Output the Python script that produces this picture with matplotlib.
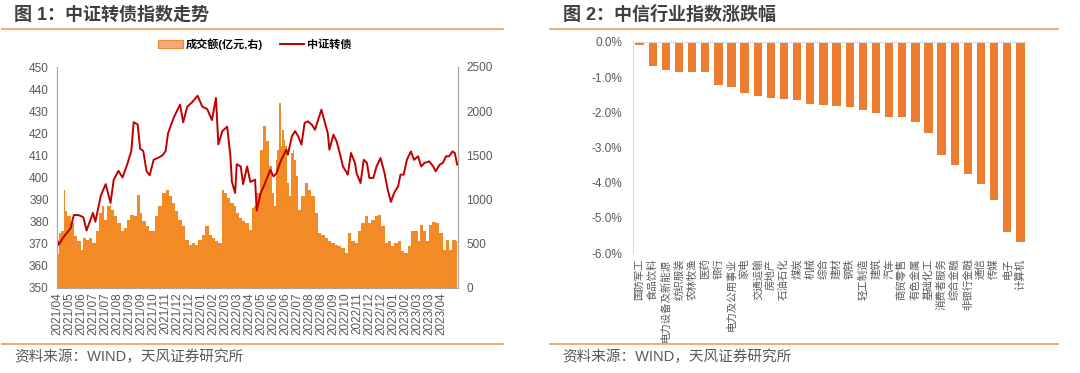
import matplotlib
matplotlib.use('Agg')
import matplotlib.pyplot as plt
from matplotlib.lines import Line2D
from matplotlib.ticker import FuncFormatter

plt.rcParams['font.family'] = ['Liberation Sans', 'Noto Sans CJK SC']
plt.rcParams['axes.unicode_minus'] = False

# --- figure 1 data: trading-day index (approx.) ---
line_day = [0, 1, 7, 16, 20, 26, 32, 36, 44, 47, 54, 60, 66, 70, 76, 81, 87, 92, 95, 100,
            103, 107, 111, 115, 120, 126, 131, 135, 138, 145, 153, 157, 162, 168, 175, 181, 187, 193, 198, 201,
            206, 212, 216, 218, 222, 224, 229, 232, 237, 241, 247, 249, 254, 259, 266, 270, 274, 278, 282, 286,
            288, 293, 297, 301, 305, 309, 313, 318, 322, 326, 330, 334, 338, 340, 345, 349, 353, 357, 363, 367,
            372, 374, 379, 383, 387, 390, 395, 399, 404, 409, 413, 417, 421, 426, 429, 433, 437, 442, 446, 451,
            455, 459, 465, 470, 473, 478, 482, 486, 490, 494, 497, 500]
line_val = [371, 369.5, 373, 377, 383, 383, 382, 376, 384, 380, 392, 397, 388.5, 399, 403, 400, 406, 412, 425, 424,
            413, 412, 403, 401, 408, 409, 410, 412, 420, 427, 433, 425, 432, 434, 437, 432, 431, 426, 436, 415,
            421, 423, 410, 398, 393, 406, 405, 397, 405, 398, 399, 385, 393, 397, 403.5, 400.5, 402, 406.5, 409.6, 412.6,
            410.3, 418.6, 421, 418.6, 414.9, 424.7, 425.4, 423.9, 421.6, 426.2, 430.7, 425.4, 420, 412.6, 419.4, 416.4, 411, 405, 401.3, 411.1,
            406.6, 402, 397.5, 408, 406.6, 399.8, 399.8, 405, 408.8, 402, 394.5, 389, 393, 396, 401.3, 401.3, 408, 411.8, 408, 409.6,
            405, 406.6, 407.3, 405, 402.8, 405.8, 406.6, 409.6, 409.6, 411.8, 411.1, 405.8]

bar_day = [0, 3, 6, 9, 10, 14, 18, 22, 27, 30, 33, 37, 41, 45, 50, 54, 56, 60, 64, 68,
           72, 76, 81, 85, 89, 93, 97, 101, 104, 108, 112, 116, 120, 124, 128, 133, 137, 141, 145, 149,
           153, 157, 162, 166, 170, 174, 178, 182, 187, 191, 195, 199, 203, 207, 209, 214, 218, 222, 225, 228,
           232, 237, 241, 244, 247, 251, 255, 259, 263, 266, 270, 272, 274, 276, 278, 280, 282, 284, 286, 288,
           291, 293, 295, 297, 299, 303, 307, 311, 315, 320, 324, 328, 332, 336, 340, 345, 349, 353, 357, 361,
           365, 369, 374, 378, 382, 386, 390, 394, 399, 403, 407, 411, 415, 419, 424, 428, 432, 436, 440, 444,
           448, 453, 455, 459, 463, 467, 471, 475, 480, 484, 488, 492, 496, 500]
bar_val = [380, 622, 641, 1112, 867, 811, 735, 584, 528, 434, 566, 547, 566, 509, 641, 848, 924, 773, 924, 886,
           811, 735, 641, 679, 773, 830, 811, 1056, 848, 754, 698, 641, 641, 811, 924, 1075, 1112, 1037, 962, 867,
           773, 698, 547, 490, 509, 490, 547, 603, 698, 603, 566, 528, 509, 1112, 1075, 1018, 962, 924, 848, 792,
           754, 735, 660, 905, 924, 1075, 1565, 1829, 1659, 1376, 1075, 924, 1452, 1565, 2093, 1603, 1791, 1678, 1603, 1188,
           1037, 1527, 1565, 1452, 1263, 886, 1037, 1188, 1112, 1037, 848, 622, 603, 566, 528, 509, 490, 471, 452, 396,
           622, 528, 509, 641, 735, 811, 735, 773, 811, 830, 698, 509, 528, 471, 509, 528, 415, 396, 471, 641,
           641, 528, 716, 641, 528, 716, 743, 735, 622, 434, 547, 434, 547, 528]

tick_labels = ['2021/04', '2021/05', '2021/06', '2021/07', '2021/07', '2021/08', '2021/09', '2021/09',
               '2021/10', '2021/11', '2021/12', '2021/12', '2022/01', '2022/02', '2022/03', '2022/03',
               '2022/04', '2022/05', '2022/06', '2022/06', '2022/07', '2022/08', '2022/08', '2022/09',
               '2022/10', '2022/11', '2022/12', '2022/12', '2023/01', '2023/02', '2023/03', '2023/03', '2023/04']
tick_step = 15

# --- figure 2 data ---
industries = ['国防军工', '食品饮料', '电力设备及新能源', '纺织服装', '农林牧渔', '医药', '银行', '电力及公用事业',
              '家电', '交通运输', '房地产', '石油石化', '煤炭', '机械', '综合', '建材', '钢铁', '轻工制造',
              '建筑', '汽车', '商贸零售', '有色金属', '基础化工', '消费者服务', '综合金融', '非银行金融',
              '通信', '传媒', '电子', '计算机']
changes = [-0.09, -0.69, -0.79, -0.84, -0.84, -0.86, -1.21, -1.29, -1.46, -1.53, -1.59, -1.61, -1.64,
           -1.75, -1.79, -1.82, -1.85, -1.92, -2.02, -2.12, -2.14, -2.27, -2.59, -3.2, -3.5, -3.75,
           -4.05, -4.49, -5.4, -5.69]

gray = '#595959'
dark = '#404040'
fig = plt.figure(figsize=(10.8, 3.73), dpi=100)

# titles, header / footer lines, source notes
fig.text(14 / 1080, 1 - 15 / 373, '图 1：中证转债指数走势', fontsize=13, fontweight='bold',
         color=dark, va='center', ha='left')
fig.text(563 / 1080, 1 - 15 / 373, '图 2：中信行业指数涨跌幅', fontsize=13, fontweight='bold',
         color=dark, va='center', ha='left')
for x0, x1 in [(2, 503), (550, 1058)]:
    for y in (29, 344):
        fig.add_artist(Line2D([x0 / 1080, x1 / 1080], [1 - y / 373] * 2, color='#F5A465',
                              lw=1.3, transform=fig.transFigure))
fig.text(14 / 1080, 1 - 357 / 373, '资料来源：WIND，天风证券研究所', fontsize=10.5,
         color=gray, va='center', ha='left')
fig.text(562 / 1080, 1 - 357 / 373, '资料来源：WIND，天风证券研究所', fontsize=10.5,
         color=gray, va='center', ha='left')

# --- left chart ---
ax = fig.add_axes([57 / 1080, 1 - 288 / 373, 401 / 1080, 221 / 373])
ax2 = ax.twinx()
ax.set_zorder(ax2.get_zorder() + 1)
ax.patch.set_visible(False)

area = ax2.fill_between(bar_day, bar_val, step='mid', color='#F28A26', linewidth=0,
                        label='成交额(亿元,右)')
ln, = ax.plot(line_day, line_val, color='#C00000', lw=1.4, label='中证转债')

ax.set_ylim(350, 450)
ax.set_yticks(range(350, 451, 10))
ax2.set_ylim(0, 2500)
ax2.set_yticks(range(0, 2501, 500))
ax.set_xlim(-1, 501)
ax.set_xticks([i * tick_step for i in range(len(tick_labels))])
ax.set_xticklabels(tick_labels, rotation=90)
for a in (ax, ax2):
    a.tick_params(length=0, labelsize=8.5, colors=gray, pad=6)
    for s in a.spines.values():
        s.set_color('#A6A6A6')
        s.set_linewidth(0.8)
    a.spines['top'].set_visible(False)
ax.tick_params(axis='x', pad=3)

leg = fig.legend([area, ln], ['成交额(亿元,右)', '中证转债'], loc='center',
                 bbox_to_anchor=(255 / 1080, 1 - 44 / 373), ncol=2, frameon=False,
                 handlelength=2.2, columnspacing=1.5, handletextpad=0.3,
                 prop={'size': 8, 'weight': 'bold'})
leg.legend_handles[0].set_facecolor('#F5A97A')
leg.legend_handles[0].set_edgecolor('#F28A26')
leg.legend_handles[0].set_linewidth(0.8)

# --- right chart ---
bx = fig.add_axes([633 / 1080, 1 - 253 / 373, 394 / 1080, 211 / 373])
bx.bar(range(len(industries)), changes, width=0.63, color='#ED7D31')
bx.set_ylim(-6, 0)
bx.set_xlim(-0.5, len(industries) - 0.5)
bx.set_yticks(range(-6, 1))
bx.yaxis.set_major_formatter(FuncFormatter(lambda v, p: f'{v:.1f}%'))
bx.set_xticks(range(len(industries)))
bx.set_xticklabels(industries, rotation=90, fontsize=7.5, color=dark, va='top')
bx.tick_params(length=0, colors=gray)
bx.tick_params(axis='y', labelsize=8.5, pad=8)
bx.tick_params(axis='x', pad=4)
for s in ('right', 'bottom'):
    bx.spines[s].set_visible(False)
bx.spines['left'].set_color('#D9D9D9')
bx.spines['top'].set_color('#D9D9D9')

fig.savefig('out.png', dpi=100)
